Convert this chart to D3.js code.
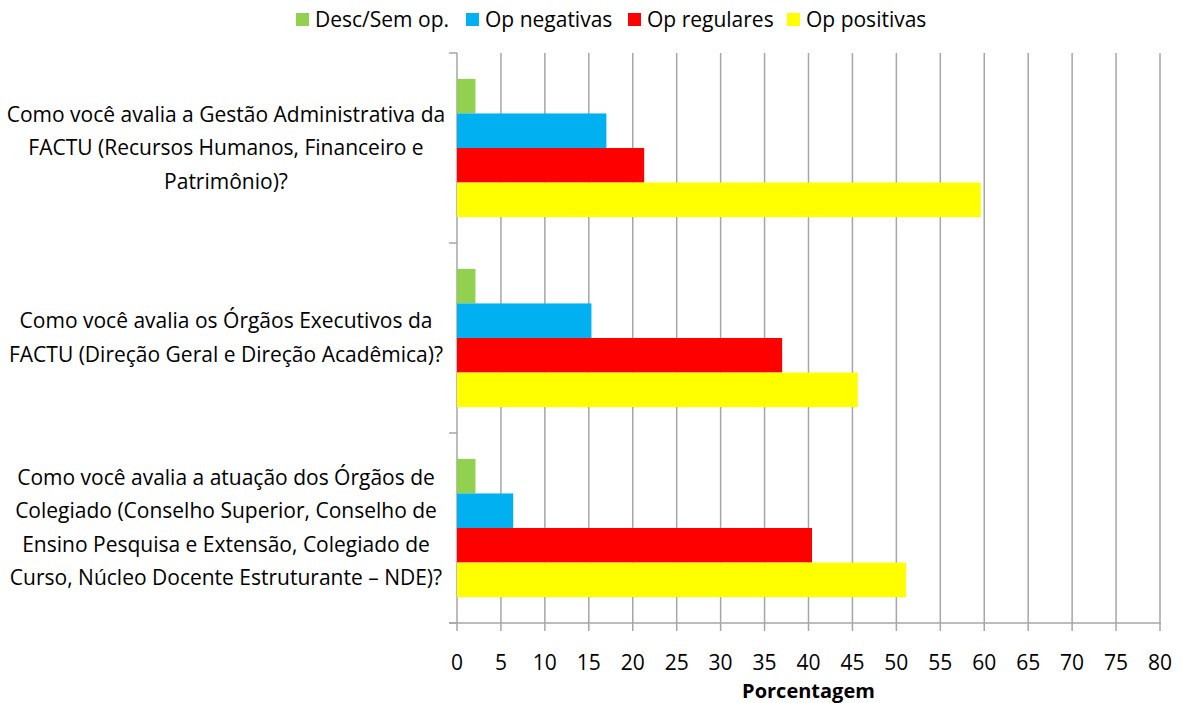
<!DOCTYPE html>
<head lang="en">
<meta charset="utf-8">
<title>Avaliação FACTU</title>
<style>
body { margin:0; background:#fff; }
text { font-family:"Open Sans",sans-serif; fill:#000; }
</style>
<script src="https://cdnjs.cloudflare.com/ajax/libs/d3/7.8.5/d3.min.js"></script>
</head>
<body>
<script>
// Categories (top to bottom), each split into display lines
var categories = [
	["Como você avalia a Gestão Administrativa da", "FACTU (Recursos Humanos, Financeiro e", "Patrimônio)?"],
	["Como você avalia os Órgãos Executivos da", "FACTU (Direção Geral e Direção Acadêmica)?"],
	["Como você avalia a atuação dos Órgãos de", "Colegiado (Conselho Superior, Conselho de", "Ensino Pesquisa e Extensão, Colegiado de", "Curso, Núcleo Docente Estruturante – NDE)?"]
];
var seriesNames = ["Desc/Sem op.", "Op negativas", "Op regulares", "Op positivas"];
var seriesColors = ["#92d050", "#00b0f0", "#ff0000", "#ffff00"];
var descSemOp   = [2.1, 2.1, 2.1];
var opNegativas = [17.0, 15.3, 6.4];
var opRegulares = [21.3, 37.0, 40.4];
var opPositivas = [59.6, 45.6, 51.1];
var xTicks = [0, 5, 10, 15, 20, 25, 30, 35, 40, 45, 50, 55, 60, 65, 70, 75, 80];

var seriesValues = [descSemOp, opNegativas, opRegulares, opPositivas];

var width = 1182, height = 703;
var margin = { left: 457, right: 22, top: 53, bottom: 80 };

var svg = d3.select("body").append("svg")
	.attr("width", width)
	.attr("height", height);

var x = d3.scaleLinear()
	.domain([0, 80])
	.range([margin.left, width - margin.right]);

var y0 = d3.scaleBand()
	.domain(d3.range(categories.length))
	.range([margin.top, height - margin.bottom]);

var y1 = d3.scaleBand()
	.domain(d3.range(seriesNames.length))
	.range([0, y0.bandwidth()])
	.paddingInner(0)
	.paddingOuter(0.75);

// vertical gridlines
svg.append("g")
	.selectAll("line")
	.data(xTicks)
	.enter()
	.append("line")
		.attr("x1", function(d) { return x(d); })
		.attr("x2", function(d) { return x(d); })
		.attr("y1", margin.top)
		.attr("y2", height - margin.bottom + 8)
		.style("stroke", "#a6a6a6")
		.style("stroke-width", "1.5px");

// bars
var groups = svg.append("g")
	.selectAll("g")
	.data(categories)
	.enter()
	.append("g")
		.attr("transform", function(d, i) { return "translate(0," + y0(i) + ")"; });

groups.selectAll("rect")
	.data(function(d, i) { return seriesValues.map(function(s, j) { return { s: j, v: s[i] }; }); })
	.enter()
	.append("rect")
		.attr("x", x(0))
		.attr("y", function(d) { return y1(d.s); })
		.attr("width", function(d) { return x(d.v) - x(0); })
		.attr("height", y1.bandwidth())
		.style("fill", function(d) { return seriesColors[d.s]; });

// bottom axis line and category ticks
svg.append("line")
	.attr("x1", x(0) - 8).attr("x2", x(80) + 1)
	.attr("y1", height - margin.bottom).attr("y2", height - margin.bottom)
	.style("stroke", "#a6a6a6").style("stroke-width", "1.5px");

svg.append("g")
	.selectAll("line")
	.data(d3.range(categories.length + 1))
	.enter()
	.append("line")
		.attr("x1", x(0) - 8).attr("x2", x(0))
		.attr("y1", function(d) { return margin.top + d * y0.step(); })
		.attr("y2", function(d) { return margin.top + d * y0.step(); })
		.style("stroke", "#a6a6a6").style("stroke-width", "1.5px");

// x tick labels
svg.append("g")
	.selectAll("text")
	.data(xTicks)
	.enter()
	.append("text")
		.attr("x", function(d) { return x(d); })
		.attr("y", 670)
		.attr("text-anchor", "middle")
		.style("font-size", "21px")
		.text(function(d) { return d; });

svg.append("text")
	.attr("x", (x(0) + x(80)) / 2)
	.attr("y", 698)
	.attr("text-anchor", "middle")
	.style("font-size", "20px")
	.style("font-weight", "bold")
	.text("Porcentagem");

// category labels
var lineH = 33.5;
svg.append("g")
	.selectAll("text")
	.data(categories)
	.enter()
	.append("text")
		.attr("text-anchor", "middle")
		.style("font-size", "21px")
		.each(function(d, i) {
			var cy = y0(i) + y0.bandwidth() / 2;
			var startY = cy - (d.length - 1) * lineH / 2 + 7;
			d3.select(this).selectAll("tspan")
				.data(d)
				.enter()
				.append("tspan")
					.attr("x", 226)
					.attr("y", function(t, k) { return startY + k * lineH; })
					.text(function(t) { return t; });
		});

// legend
var legendX = [296, 466, 628, 787];
var legend = svg.append("g")
	.selectAll("g")
	.data(seriesNames)
	.enter()
	.append("g")
		.attr("transform", function(d, i) { return "translate(" + legendX[i] + ",0)"; });

legend.append("rect")
	.attr("x", 0).attr("y", 13)
	.attr("width", 13).attr("height", 13)
	.style("fill", function(d, i) { return seriesColors[i]; });

legend.append("text")
	.attr("x", 19)
	.attr("y", 27)
	.style("font-size", "21px")
	.text(function(d) { return d; });
</script>
</body>
</html>
